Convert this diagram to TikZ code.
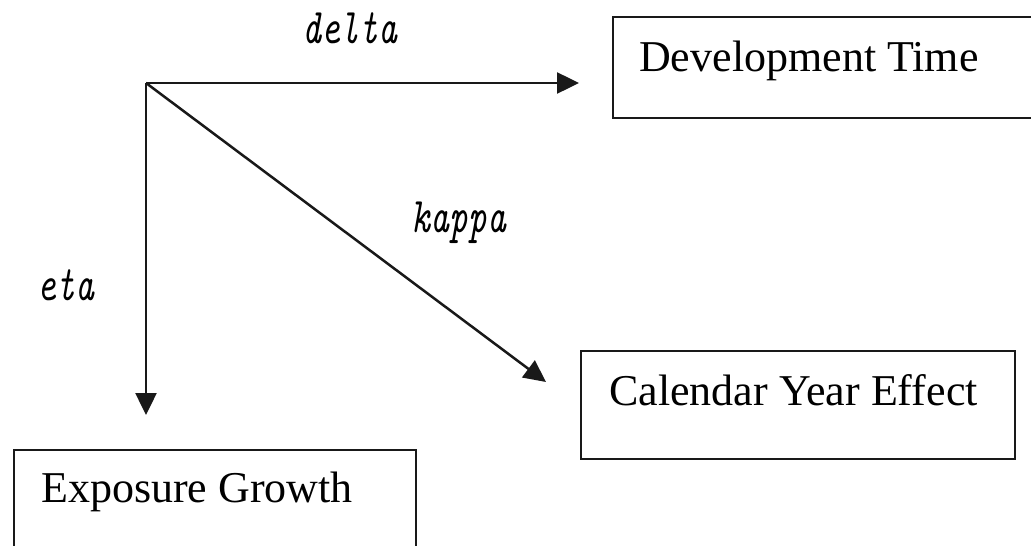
\documentclass[tikz,border=0pt]{standalone}
\usepackage{fontspec}
\setmainfont{Liberation Serif}
\usetikzlibrary{arrows.meta}
\newcommand{\arlbl}[1]{\scalebox{0.72}[1]{\ttfamily\itshape\fontsize{50}{56}\selectfont #1}}
\tikzset{
  box/.style={draw=black!90, line width=2pt, inner sep=0pt, anchor=north west},
  boxtext/.style={font=\fontsize{44}{50}\selectfont, inner sep=0pt, anchor=base west},
  arlabel/.style={inner sep=0pt, anchor=base},
  arrowline/.style={draw=black!90, line width=2.5pt, -{Triangle[length=22pt,width=21pt]}}
}
\begin{document}
\begin{tikzpicture}[x=1pt,y=-1pt]
\useasboundingbox (0,0) rectangle (1031,546);
\clip (0,0) rectangle (1031,546);
% boxes
\node[box, minimum width=440pt, minimum height=101pt] (dev) at (612,16) {};
\node[box, minimum width=434pt, minimum height=108pt] (cal) at (580,350) {};
\node[box, minimum width=402pt, minimum height=120pt] (exp) at (13,449) {};
% box texts
\node[boxtext] (devt) at (639,71) {Development Time};
\node[boxtext] (calt) at (609,405) {Calendar Year Effect};
\node[boxtext] (expt) at (41,502) {Exposure Growth};
% arrows
\coordinate (o) at (146,83);
\coordinate (tdev) at (579,83);
\coordinate (tcal) at (546,382);
\coordinate (texp) at (146,415);
\draw[arrowline] (o) -- (tdev);
\draw[arrowline] (o) -- (tcal);
\draw[arrowline] (o) -- (texp);
% labels
\node[arlabel] (delta) at (350,43) {\arlbl{delta}};
\node[arlabel] (kappa) at (459,232) {\arlbl{kappa}};
\node[arlabel] (eta) at (66,300) {\arlbl{eta}};
\end{tikzpicture}
\end{document}
